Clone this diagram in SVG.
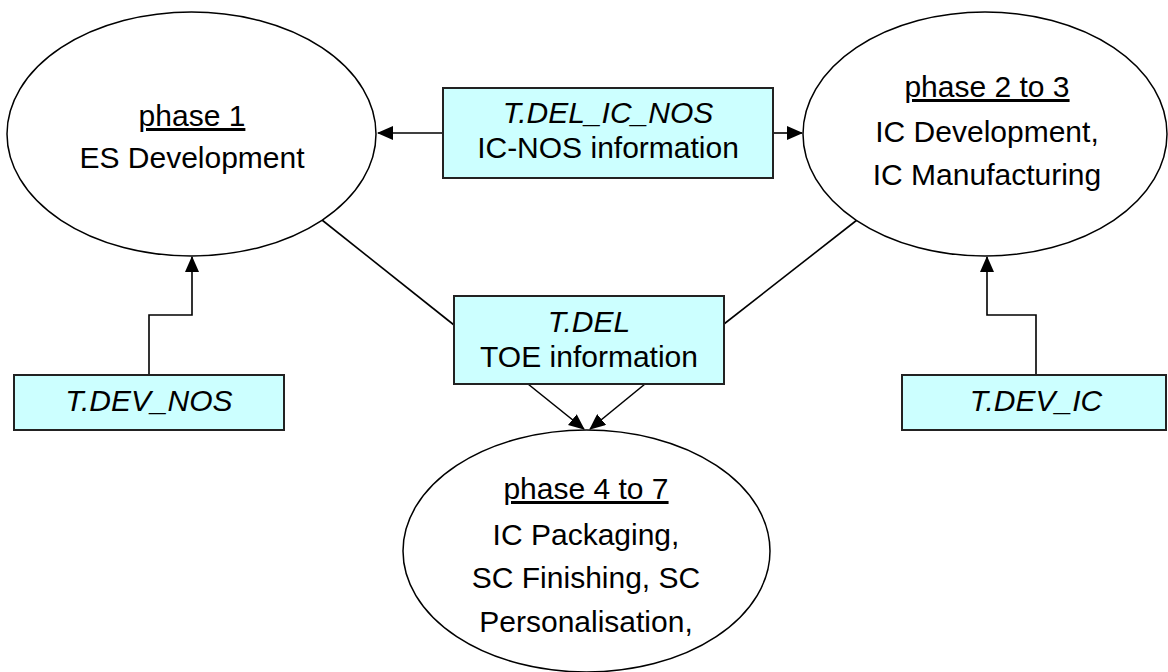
<svg xmlns="http://www.w3.org/2000/svg" width="1168" height="672" viewBox="0 0 1168 672">
<style>
text{font-family:"Liberation Sans",Arial,sans-serif;font-size:30px;fill:#000;text-anchor:middle}
.it{font-style:italic}
.ul{text-decoration:underline}
.ell{fill:#fff;stroke:#000;stroke-width:1.5}
.box{fill:#ccffff;stroke:#222;stroke-width:2}
.con{fill:none;stroke:#000;stroke-width:1.6}
</style>
<defs>
<marker id="ah" markerUnits="userSpaceOnUse" markerWidth="16" markerHeight="14" refX="15" refY="7" orient="auto">
<path d="M0,0 L16,7 L0,14 Z" fill="#000"/>
</marker>
</defs>
<rect width="1168" height="672" fill="#fff"/>
<g id="connectors">
<line class="con" x1="443" y1="133" x2="378" y2="133" marker-end="url(#ah)"/>
<line class="con" x1="773" y1="133" x2="802" y2="133" marker-end="url(#ah)"/>
<line class="con" x1="322" y1="220" x2="454" y2="325"/>
<line class="con" x1="857" y1="220" x2="724" y2="324"/>
<line class="con" x1="528" y1="384" x2="584" y2="429" marker-end="url(#ah)"/>
<line class="con" x1="645" y1="384" x2="590" y2="429" marker-end="url(#ah)"/>
<polyline class="con" points="149,375 149,315 192,315 192,257" marker-end="url(#ah)"/>
<polyline class="con" points="1036,375 1036,315 987,315 987,257" marker-end="url(#ah)"/>
</g>
<g id="phase1">
<ellipse class="ell" cx="191.5" cy="134" rx="184.5" ry="122"/>
<text class="ul" x="192" y="126">phase 1</text>
<text x="192" y="168">ES Development</text>
</g>
<g id="phase2to3">
<ellipse class="ell" cx="985" cy="134" rx="182" ry="122"/>
<text class="ul" x="987" y="97">phase 2 to 3</text>
<text x="987" y="142">IC Development,</text>
<text x="987" y="185">IC Manufacturing</text>
</g>
<g id="phase4to7">
<ellipse class="ell" cx="586.5" cy="551" rx="183.5" ry="121"/>
<text class="ul" x="586" y="499">phase 4 to 7</text>
<text x="586" y="545">IC Packaging,</text>
<text x="586" y="588">SC Finishing, SC</text>
<text x="586" y="632">Personalisation,</text>
</g>
<g id="tdel_ic_nos">
<rect class="box" x="443" y="88" width="330" height="90"/>
<text class="it" x="608" y="123">T.DEL_IC_NOS</text>
<text x="608" y="158">IC-NOS information</text>
</g>
<g id="tdel">
<rect class="box" x="454" y="296" width="270" height="88"/>
<text class="it" x="589" y="332">T.DEL</text>
<text x="589" y="367">TOE information</text>
</g>
<g id="tdev_nos">
<rect class="box" x="14" y="375" width="270" height="55"/>
<text class="it" x="149" y="411">T.DEV_NOS</text>
</g>
<g id="tdev_ic">
<rect class="box" x="902" y="375" width="264" height="55"/>
<text class="it" x="1036" y="411">T.DEV_IC</text>
</g>
</svg>
